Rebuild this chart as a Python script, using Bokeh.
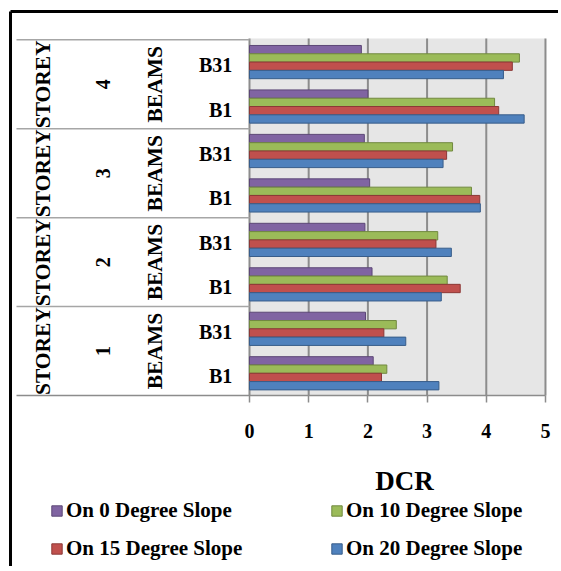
import math
import numpy as np
from bokeh.plotting import figure
from bokeh.models import (ColumnDataSource, Range1d, FixedTicker, Legend,
                          LegendItem, Label)
from bokeh.core.properties import value
from bokeh.embed import file_html
from bokeh.resources import INLINE

# Demand/capacity ratio of two beams on each storey, for four ground slopes
storeys = ["1", "1", "2", "2", "3", "3", "4", "4"]
beams = ["B1", "B31", "B1", "B31", "B1", "B31", "B1", "B31"]
storey_names = ["1", "2", "3", "4"]
series_names = ["On 0 Degree Slope", "On 10 Degree Slope",
                "On 15 Degree Slope", "On 20 Degree Slope"]
dcr_0deg = [2.09, 1.96, 2.07, 1.95, 2.03, 1.94, 2.00, 1.89]
dcr_10deg = [2.32, 2.48, 3.34, 3.18, 3.75, 3.43, 4.14, 4.56]
dcr_15deg = [2.23, 2.27, 3.56, 3.15, 3.89, 3.33, 4.21, 4.44]
dcr_20deg = [3.20, 2.64, 3.24, 3.41, 3.90, 3.27, 4.64, 4.29]
x_ticks = [0, 1, 2, 3, 4, 5]
x_title = "DCR"
storey_word = "STOREY"
beam_word = "BEAMS"

FONT = "Liberation Serif"
fills = ["#8064A2", "#9BBB59", "#C0504D", "#4F81BD"]
edges = ["#5C4776", "#71893F", "#8C3836", "#385D8A"]
offsets = [0.28, 0.093, -0.093, -0.28]
bar_h = 0.187
y_top = 8.03          # top of the plot area
table_left = -3.936   # left end of the category table rules

# the frame fills the whole canvas: table, bars, footer and the chart
# border all live inside it; the DCR axis is pinned at y = 0
x_range = Range1d(-4.206, 5.220)
y_range = Range1d(-3.846, 8.885)
p = figure(width=558, height=566, x_range=x_range, y_range=y_range,
           output_backend="svg", toolbar_location=None, y_axis_location=None,
           min_border=0, min_border_left=0, min_border_right=0,
           min_border_top=0, min_border_bottom=0, outline_line_color=None,
           background_fill_color="white", border_fill_color="white")
p.grid.visible = False

# chart border (left and top edges)
bx, by = -4.037, 8.638
p.segment(x0=[bx, bx], y0=[y_range.start, by], x1=[bx, x_range.end], y1=[by, by],
          line_color="black", line_width=3)

# grey plot area with vertical grid lines at the DCR ticks
p.quad(left=[0], right=[x_ticks[-1]], bottom=[0], top=[y_top],
       fill_color="#E6E6E6", line_color=None, level="image")
p.segment(x0=x_ticks, x1=x_ticks, y0=[0] * len(x_ticks),
          y1=[y_top] * len(x_ticks), line_color="#8C8C8C", line_width=2,
          level="underlay")

cat_y = np.arange(len(beams)) + 0.5
series = [dcr_0deg, dcr_10deg, dcr_15deg, dcr_20deg]
renderers = []
for vals, fc, ec, off in zip(series, fills, edges, offsets):
    src = ColumnDataSource(dict(y=cat_y + off, right=vals))
    r = p.hbar(y="y", right="right", left=0, height=bar_h, source=src,
               fill_color=fc, line_color=ec, line_width=1)
    renderers.append(r)

# table rules between storeys on the category side
group_y = [2, 4, 6, 8]
p.segment(x0=[table_left] * 4, x1=[0] * 4, y0=group_y, y1=group_y,
          line_color="#A6A6A6", line_width=1.5)

storey_y = [1, 3, 5, 7]
p.text(x=[-3.49] * 4, y=storey_y, text=[storey_word] * 4, angle=math.pi / 2,
       text_align="center", text_baseline="middle",
       text_font=value(FONT), text_font_style="bold", text_font_size="21.5px",
       text_color="black")
p.text(x=[-2.48] * 4, y=storey_y, text=storey_names, angle=math.pi / 2,
       text_align="center", text_baseline="middle",
       text_font=value(FONT), text_font_style="bold", text_font_size="20px",
       text_color="black")
p.text(x=[-1.60] * 4, y=storey_y, text=[beam_word] * 4, angle=math.pi / 2,
       text_align="center", text_baseline="middle",
       text_font=value(FONT), text_font_style="bold", text_font_size="21.5px",
       text_color="black")
p.text(x=[-0.29] * len(beams), y=cat_y, text=beams, y_offset=3,
       text_align="right", text_baseline="middle",
       text_font=value(FONT), text_font_style="bold", text_font_size="20px",
       text_color="black")

ax = p.xaxis[0]
ax.fixed_location = 0
ax.bounds = (table_left, x_ticks[-1])
ax.ticker = FixedTicker(ticks=x_ticks)
ax.axis_line_color = "#8C8C8C"
ax.axis_line_width = 1.5
ax.major_tick_line_color = "#8C8C8C"
ax.major_tick_line_width = 1.5
ax.major_tick_out = 7
ax.major_tick_in = 0
ax.minor_tick_line_color = None
ax.major_label_standoff = 21
ax.major_label_text_font = FONT
ax.major_label_text_font_style = "bold"
ax.major_label_text_font_size = "20px"
ax.major_label_text_color = "black"

p.add_layout(Label(x=2.62, y=-1.912, text=x_title, text_align="center",
                   text_baseline="middle", text_font=FONT,
                   text_font_style="bold", text_font_size="27px",
                   text_color="black"))

keys = [LegendItem(label=n, renderers=[r])
        for n, r in zip(series_names, renderers)]
# two columns filled top to bottom: (0, 15) then (10, 20)
legend = Legend(items=[keys[0], keys[2], keys[1], keys[3]],
                location=(50, 5), ncols=2, glyph_width=13, glyph_height=13,
                label_standoff=3, label_width=251, spacing=13, padding=0,
                margin=0, border_line_color=None, background_fill_alpha=0,
                label_text_font=FONT, label_text_font_style="bold",
                label_text_font_size="21px", label_text_color="black")
p.add_layout(legend, "center")

open("out.html", "w").write(file_html(p, INLINE))
